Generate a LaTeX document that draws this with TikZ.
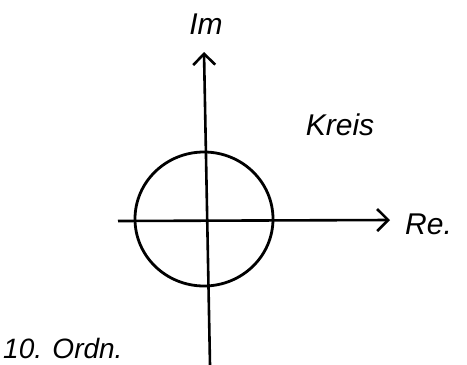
\documentclass[tikz,border=0pt]{standalone}
\usepackage{fontspec}
\setmainfont{Liberation Sans}
\usetikzlibrary{arrows.meta}
\begin{document}
\begin{tikzpicture}[x=1pt,y=-1pt,
  axis/.style={line width=2.6pt,-{Straight Barb[length=11pt,width=22pt,line width=2.6pt]}},
  lbl/.style={font=\itshape\fontsize{30}{32}\selectfont,inner sep=0pt}]
\useasboundingbox (0,0) rectangle (467,365);
\coordinate (xl) at (118,221);
\coordinate (xr) at (390,220);
\coordinate (yb) at (210,365);
\coordinate (yt) at (204,52);
\draw[axis] (xl) -- (xr);
\draw[axis] (yb) -- (yt);
\draw[line width=2.8pt] (204,219) ellipse [x radius=69pt, y radius=67pt];
\node[lbl] (im) at (206,24) {Im};
\node[lbl,anchor=west] (re) at (405,224) {Re.};
\node[lbl] (kreis) at (340,125) {Kreis};
\node[lbl,anchor=south west,font=\itshape\fontsize{28}{30}\selectfont] (ordn) at (3,359) {10. Ordn.};
\end{tikzpicture}
\end{document}
